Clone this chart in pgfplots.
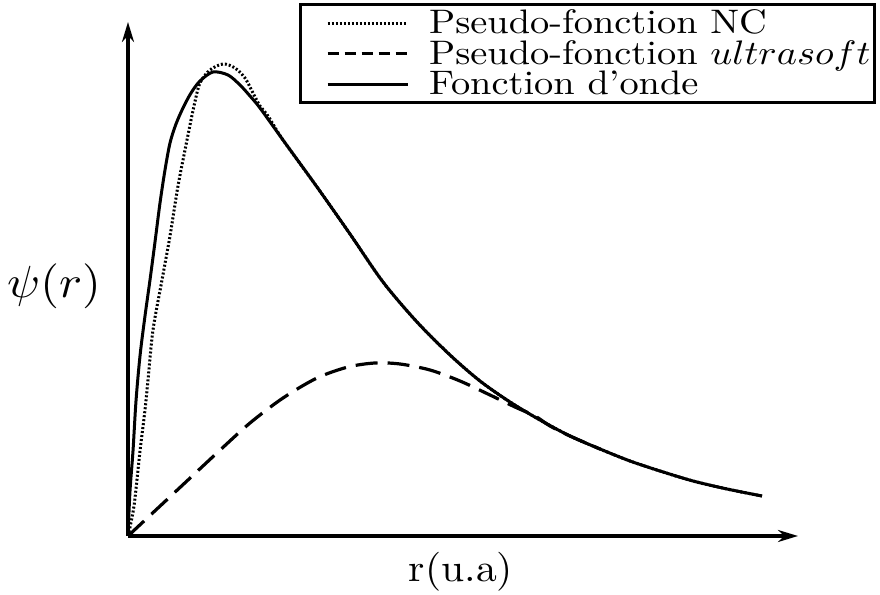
\documentclass[border=0pt]{standalone}
\usepackage{graphicx}
\usepackage{pgfplots}
\pgfplotsset{compat=1.18}
\usetikzlibrary{arrows.meta}
\newcommand{\legtxt}[1]{\scalebox{1.92}[1.7]{\rule[-2.4pt]{0pt}{9.6pt}#1}}
\begin{document}
\begin{tikzpicture}
\path[use as bounding box] (0,0) rectangle (440pt,297.5pt);
\begin{axis}[
  at={(64pt,29.5pt)}, anchor=south west,
  scale only axis, width=335pt, height=257pt,
  xmin=0, xmax=670, ymin=0, ymax=514,
  axis lines=left,
  axis line style={line width=1.6pt, -{Stealth[length=10pt,width=6pt]}},
  x axis line style={line width=1.6pt}, y axis line style={line width=1.6pt},
  xtick=\empty, ytick=\empty,
  clip=false,
  xlabel={\scalebox{2.08}[1.95]{r(u.a)}},
  xlabel style={at={(axis cs:333,-36)}, anchor=center},
  ylabel={\scalebox{2.41}[2.25]{$\psi(r)$}},
  ylabel style={at={(axis cs:-74,250)}, anchor=center, rotate=-90},
  legend cell align=left,
  legend image code/.code={\path[draw=none] (0pt,0pt) -- (11.5pt,0pt); \draw[#1] (11.5pt,0pt) -- (51.5pt,0pt);},
  legend style={at={(axis cs:748,533)}, anchor=north east, draw=black, line width=1.4pt,
    inner xsep=2pt, inner ysep=2.5pt,
    nodes={inner xsep=0pt, inner ysep=0pt}, column sep=10pt, row sep=1.5pt},
]
\addplot[black, line width=1.5pt, dash pattern=on 1pt off 1pt, smooth, tension=0.5]
coordinates {(0,0) (6,30) (12,85) (17,126) (20,156) (25,206) (34,256) (42,300) (50,350) (59,396) (66,430) (72,453) (82,466) (95,472) (107,468) (117,458) (125,443) (132,430) (140,420) (155,396) (189,349) (222,302) (255,254) (289,214) (322,181) (352,155) (382,134) (412,116) (442,100) (472,87) (502,75) (532,65) (565,55) (599,47) (634,40)};
\addlegendentry{\legtxt{Pseudo-fonction NC}}
\addplot[black, line width=1.6pt, dash pattern=on 11pt off 5pt, smooth, tension=0.5,
  legend image post style={dash pattern=on 5.5pt off 3pt}]
coordinates {(0,0) (30,28) (60,56) (90,84) (122,113) (155,138) (189,158) (220,169) (247,173) (272,172) (302,166) (332,155) (362,141) (387,129) (407,120) (422,110) (442,100) (472,87)};
\addlegendentry{\legtxt{Pseudo-fonction $ultrasoft$}}
\addplot[black, line width=1.5pt, smooth, tension=0.5]
coordinates {(0,0) (2,45) (5,85) (8,135) (12,180) (17,220) (22,256) (27,294) (32,333) (37,366) (42,393) (48,412) (55,428) (63,443) (72,455) (85,464) (100,461) (112,451) (122,440) (132,428) (155,396) (189,349) (222,302) (255,254) (289,214) (322,181) (352,155) (382,134) (412,116) (442,100) (472,87) (502,75) (532,65) (565,55) (599,47) (634,40)};
\addlegendentry{\legtxt{Fonction d'onde}}
\end{axis}
\end{tikzpicture}
\end{document}
